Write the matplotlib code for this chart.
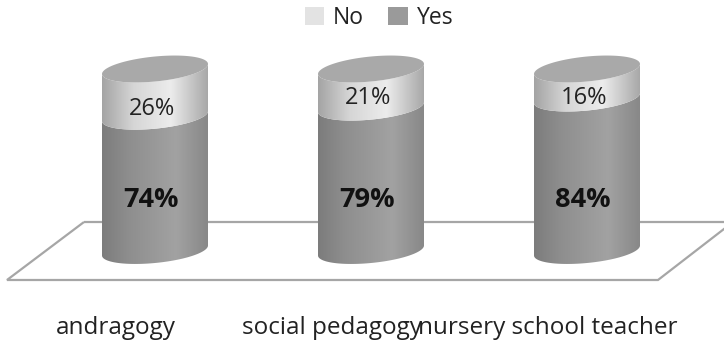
import numpy as np
import matplotlib
matplotlib.use('Agg')
import matplotlib.pyplot as plt
from matplotlib.colors import LinearSegmentedColormap
from matplotlib.patches import Patch, Polygon
from matplotlib.transforms import ScaledTranslation

categories = ['andragogy', 'social pedagogy', 'nursery school teacher']
yes_values = [74, 79, 84]
no_values = [26, 21, 16]

W, H = 724, 342
PX_X = 216.0            # pixels per category
PX_Y = 1.815            # pixels per percent
plt.rcParams['font.family'] = ['Open Sans', 'DejaVu Sans']

fig = plt.figure(figsize=(W / 100, H / 100), dpi=100)
ax = fig.add_axes([47 / W, (H - 250.5) / H, 648 / W, 181.5 / H])
ax.set_facecolor('none')

# half width, half height and tilt of the cylinder ellipses
a = 53 / PX_X
b = 12.5 / PX_Y
tilt = 5 / PX_Y

yes_cmap = LinearSegmentedColormap.from_list('yes', [(0, '#7c7c7c'), (0.25, '#8e8e8e'),
                                                     (0.7, '#a2a2a2'), (1, '#888888')])
no_cmap = LinearSegmentedColormap.from_list('no', [(0, '#a4a4a4'), (0.3, '#d6d6d6'),
                                                   (0.65, '#ececec'), (1, '#a8a8a8')])
grad = np.linspace(0, 1, 256).reshape(1, -1)


def front_arc(x, v, n=60, reverse=False):
    t = np.linspace(np.pi, 2 * np.pi, n)
    if reverse:
        t = t[::-1]
    return np.column_stack([x + a * np.cos(t), v + b * np.sin(t) + tilt * np.cos(t)])


def segment(x, v0, v1, cmap):
    pts = np.vstack([front_arc(x, v0), front_arc(x, v1, reverse=True)])
    im = ax.imshow(grad, cmap=cmap, vmin=0, vmax=1, aspect='auto', zorder=3,
                   extent=[x - a, x + a, v0 - 20, v1 + 20], origin='lower')
    im.set_clip_path(Polygon(pts, transform=ax.transData))
    im.set_clip_box(fig.bbox)


# floor plane
floor = [(-0.3287, 15.7), (-0.6852, -16.25), (2.3287, -16.25), (2.676, 15.7)]
ax.add_patch(Polygon(floor, closed=True, fill=False, edgecolor='#a6a6a6', linewidth=1.6,
                     zorder=1, clip_on=False))

for i, (yes, no) in enumerate(zip(yes_values, no_values)):
    segment(i, 0, yes, yes_cmap)
    segment(i, yes, yes + no, no_cmap)
    t = np.linspace(0, 2 * np.pi, 120)
    top = np.column_stack([i + a * np.cos(t), 100 + b * np.sin(t) + tilt * np.cos(t)])
    ax.add_patch(Polygon(top, closed=True, facecolor='#a9a9a9', edgecolor='none', zorder=4,
                         clip_on=False))
    ax.text(i - 0.02, 28, f'{yes}%', ha='center', va='center', fontsize=19.5,
            fontweight='bold', color='#111111', zorder=5)
    ax.text(i - 0.015, [78, 84, 84][i], f'{no}%', ha='center', va='center', fontsize=17,
            color='#222222', zorder=5)

ax.set_xlim(-0.5, 2.5)
ax.set_ylim(0, 100)
ax.set_yticks([])
ax.set_xticks(range(len(categories)))
ax.set_xticklabels(categories, fontsize=17.5, color='#222222')
ax.tick_params(axis='x', length=0, pad=47)
# the category labels sit left of their bars in the reference
shift = ScaledTranslation(-39 / 100, 0, fig.dpi_scale_trans)
for lab in ax.get_xticklabels():
    lab.set_transform(lab.get_transform() + shift)
for s in ax.spines.values():
    s.set_visible(False)

handles = [Patch(facecolor='#e3e3e3', label='No'), Patch(facecolor='#9a9a9a', label='Yes')]
fig.legend(handles=handles, ncol=2, frameon=False, fontsize=16.5, loc='center',
           bbox_to_anchor=(379 / W, (H - 18) / H), handlelength=0.85, handleheight=0.85,
           handletextpad=0.4, columnspacing=1.05, labelcolor='#222222')

fig.savefig('out.png', dpi=100)
